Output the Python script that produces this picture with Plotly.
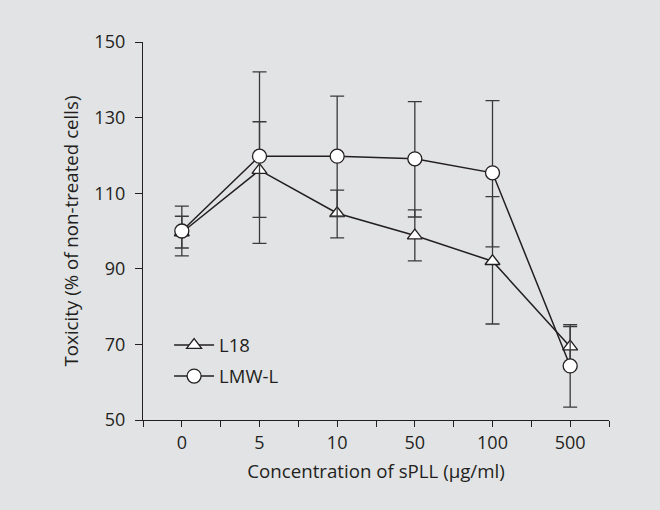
import plotly.graph_objects as go

categories = ["0", "5", "10", "50", "100", "500"]

l18_values = [99.6, 116.1, 104.7, 98.8, 92.0, 69.4]
l18_err_plus = [4.3, 12.8, 6.1, 6.8, 17.1, 5.3]
l18_err_minus = [4.1, 12.5, 6.5, 6.7, 16.6, 5.3]

lmw_values = [100.0, 119.8, 119.8, 119.1, 115.4, 64.3]
lmw_err_plus = [6.6, 22.3, 15.9, 15.1, 19.1, 10.9]
lmw_err_minus = [6.6, 23.1, 15.9, 15.4, 19.6, 10.9]

y_ticks = [50, 70, 90, 110, 130, 150]

x_pos = list(range(len(categories)))
tick_positions = [i / 2 - 0.5 for i in range(2 * len(categories) + 1)]
tick_labels = [categories[int(p)] if float(p).is_integer() else "" for p in tick_positions]

INK = "#231f20"
BG = "#e2e3e5"
FONT = "Open Sans"

fig = go.Figure()

fig.add_trace(go.Scatter(
    x=x_pos, y=l18_values, name="L18", legendgroup="a",
    mode="lines+markers",
    line=dict(color=INK, width=1.5),
    marker=dict(symbol="triangle-up", size=13, color="white",
                line=dict(color=INK, width=1.3)),
    error_y=dict(type="data", symmetric=False, array=l18_err_plus,
                 arrayminus=l18_err_minus, color="#3a3a3a", thickness=1.3, width=7),
))
fig.add_trace(go.Scatter(
    x=x_pos, y=lmw_values, name="LMW-L", legendgroup="b",
    mode="lines+markers",
    line=dict(color=INK, width=1.5),
    marker=dict(symbol="circle", size=14, color="white",
                line=dict(color=INK, width=1.3)),
    error_y=dict(type="data", symmetric=False, array=lmw_err_plus,
                 arrayminus=lmw_err_minus, color="#3a3a3a", thickness=1.3, width=7),
))

fig.update_layout(
    width=660, height=510,
    margin=dict(l=143, r=51, t=42, b=90),
    paper_bgcolor=BG,
    plot_bgcolor="rgba(0,0,0,0)",
    font=dict(family=FONT, size=18, color=INK),
    showlegend=True,
    legend=dict(x=0.056, y=0.156, xanchor="left", yanchor="middle",
                bgcolor="rgba(0,0,0,0)", font=dict(size=18.5, color=INK),
                traceorder="grouped", tracegroupgap=4, itemwidth=40),
)

fig.update_xaxes(
    range=[-0.5, 5.5], tickmode="array", tickvals=tick_positions, ticktext=tick_labels,
    showline=True, linecolor=INK, linewidth=1.3, ticks="outside", ticklen=6,
    tickcolor=INK, tickwidth=1.3, showgrid=False, zeroline=False,
    tickfont=dict(size=18), ticklabelstandoff=0,
    title=dict(text="Concentration of sPLL (µg/ml)", font=dict(size=18.7), standoff=12),
)
fig.update_yaxes(
    range=[50, 150], tickmode="array", tickvals=y_ticks,
    showline=True, linecolor=INK, linewidth=1.3, ticks="outside", ticklen=7,
    tickcolor=INK, tickwidth=1.3, showgrid=False, zeroline=False,
    tickfont=dict(size=18), ticklabelstandoff=6,
    title=dict(text="Toxicity (% of non-treated cells)", font=dict(size=18.7), standoff=10),
)

fig.write_html(
    "out.html", config={"displayModeBar": False},
    post_script=("document.body.style.margin='0px';"
                 "document.body.style.background='%s';"
                 "document.documentElement.style.background='%s';" % (BG, BG)),
)
